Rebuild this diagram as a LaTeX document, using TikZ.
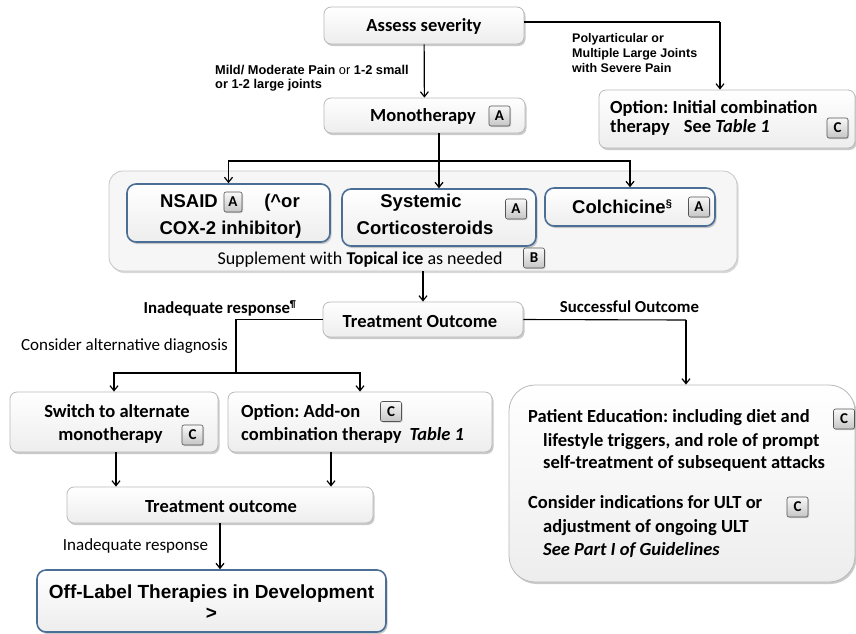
\documentclass[tikz,border=0pt]{standalone}
\usepackage{fontspec}
\setmainfont{Carlito}
\newfontfamily\arialf{Liberation Sans}
\usetikzlibrary{arrows.meta,shadows}
\definecolor{blueb}{RGB}{74,110,150}
\newcommand\myfs[1]{\fontsize{#1}{#1}\selectfont}
\frenchspacing
\begin{document}
\frenchspacing
\begin{tikzpicture}[x=1pt,y=-1pt,
  box/.style={draw=gray!55, line width=0.8pt, rounded corners=7pt, top color=white, bottom color=gray!14,
    drop shadow={shadow xshift=1.5pt, shadow yshift=-2pt, fill=gray!70, opacity=0.6}, inner sep=0pt},
  bluebox/.style={box, draw=blueb, line width=1.6pt, rounded corners=9pt},
  bigbox/.style={draw=gray!45, line width=0.8pt, rounded corners=14pt, fill=gray!7,
    drop shadow={shadow xshift=1.5pt, shadow yshift=-2pt, fill=gray!60, opacity=0.5}, inner sep=0pt},
  badge/.style={draw=gray!65!black, line width=0.6pt, rounded corners=2pt, top color=gray!5, bottom color=gray!45,
    minimum width=21pt, minimum height=20pt, inner sep=0pt, font=\bfseries\myfs{15},
    drop shadow={shadow xshift=1pt, shadow yshift=-1pt, fill=gray!60, opacity=0.6}},
  cb/.style={font=\bfseries\myfs{18.5}, inner sep=0pt, text height=11.9pt, text depth=0pt},
  cbs/.style={font=\bfseries\myfs{16.8}, inner sep=0pt, text height=10.8pt, text depth=0pt},
  cr/.style={font=\myfs{17}, inner sep=0pt, text height=11pt, text depth=0pt},
  ab/.style={font=\arialf\bfseries\myfs{18.5}, inner sep=0pt, text height=13.2pt, text depth=0pt},
  asm/.style={font=\arialf\myfs{12.8}, inner sep=0pt, text height=9.2pt, text depth=0pt},
  asmb/.style={asm, font=\arialf\bfseries\myfs{12.5}},
  conn/.style={line width=1.2pt, -{Straight Barb[length=5pt,width=8pt]}},
  plain/.style={line width=1.1pt},
]
\useasboundingbox (0,0) rectangle (856,633);

% ---------- boxes ----------
\node[box, minimum width=200pt, minimum height=37pt] (assess) at (424,25.5) {};
\node[box, minimum width=201pt, minimum height=35pt] (mono) at (424.5,115.5) {};
\node[box, minimum width=256pt, minimum height=58pt] (opt) at (727,119) {};
\node[bigbox, minimum width=628pt, minimum height=100pt] (big) at (423,221) {};
\node[bluebox, minimum width=203pt, minimum height=58pt] (nsaid) at (228.5,213) {};
\node[bluebox, minimum width=194pt, minimum height=57pt] (sys) at (439,217.5) {};
\node[bluebox, minimum width=170pt, minimum height=38pt] (colch) at (630,207) {};
\node[box, minimum width=200pt, minimum height=35pt] (to) at (423,319.5) {};
\node[box, minimum width=208pt, minimum height=60pt] (sw) at (114,422) {};
\node[box, minimum width=264pt, minimum height=60pt] (add) at (360,422) {};
\node[box, rounded corners=26pt, minimum width=346pt, minimum height=197pt] (pat) at (682,483.5) {};
\node[box, minimum width=306pt, minimum height=36pt] (totwo) at (220,505) {};
\node[bluebox, minimum width=349pt, minimum height=62pt] (off) at (211.5,601) {};

% ---------- texts ----------
\node[cb] (tassess) at (424,26) {Assess severity};
\node[cb] (tmono) at (423,116) {Monotherapy};
\node[badge] (bmono) at (499.5,116) {A};

\node[asm, anchor=west] (tmild1) at (215,70) {\textbf{Mild/ Moderate Pain} or \textbf{1-2 small}};
\node[asm, anchor=west] (tmild2) at (215,84) {\textbf{or 1-2 large joints}};

\node[asmb, anchor=west] (tpoly1) at (572,38) {Polyarticular or};
\node[asmb, anchor=west] (tpoly2) at (572,53) {Multiple Large Joints};
\node[asmb, anchor=west] (tpoly3) at (572,68) {with Severe Pain};

\node[cb, anchor=west] (topt1) at (610,108) {Option: Initial combination};
\node[cb, anchor=west] (topt2) at (610,127) {therapy\hspace{14pt}See \textit{Table 1}};
\node[badge] (bopt) at (837.5,128) {C};

\node[ab] (tnsaid) at (189,201) {NSAID};
\node[badge, minimum width=18pt] (bnsaid) at (233,202) {A};
\node[ab] (tor) at (282,201) {(\textasciicircum or};
\node[ab] (tcox) at (230.5,228) {COX-2 inhibitor)};

\node[ab] (tsys1) at (421,201) {Systemic};
\node[ab] (tsys2) at (425,228) {Corticosteroids};
\node[badge] (bsys) at (516,209) {A};

\node[ab, anchor=west] (tcolch) at (572,207) {Colchicine\textsuperscript{\myfs{11}§}};
\node[badge] (bcolch) at (699,207) {A};

\node[cr, font=\myfs{18}, text height=11.6pt] (tsupp) at (360,259) {Supplement with \textbf{Topical ice} as needed};
\node[badge] (bsupp) at (534,258) {B};

\node[cb] (tto) at (420,322) {Treatment Outcome};
\node[cbs] (tinad) at (220,308) {Inadequate response\textsuperscript{\myfs{10}¶}};
\node[cr] (tcons) at (124.5,345) {Consider alternative diagnosis};
\node[cbs] (tsucc) at (629.5,307) {Successful Outcome};

\node[cb] (tsw1) at (117,412) {Switch to alternate};
\node[cb] (tsw2) at (110.5,435) {monotherapy};
\node[badge] (bsw) at (192.5,435) {C};

\node[cb, anchor=west] (tadd1) at (241,412) {Option: Add-on};
\node[badge] (badd) at (391,411.5) {C};
\node[cb, anchor=west] (tadd2) at (241,435) {combination therapy\hspace{8pt}\textit{Table 1}};

\node[cb, anchor=west] (tpat1) at (528,417) {Patient Education: including diet and};
\node[cb, anchor=west] (tpat2) at (543,441) {lifestyle triggers, and role of prompt};
\node[cb, anchor=west] (tpat3) at (543,463) {self-treatment of subsequent attacks};
\node[badge] (bpat) at (844,419) {C};
\node[cb, anchor=west] (tult1) at (528,503) {Consider indications for ULT or};
\node[badge] (bult) at (797.5,507) {C};
\node[cb, anchor=west] (tult2) at (543,527) {adjustment of ongoing ULT};
\node[cb, anchor=west, font=\bfseries\itshape\myfs{18.5}] (tult3) at (543,550) {See Part I of Guidelines};

\node[cb] (tto2) at (221,507) {Treatment outcome};
\node[cr] (tinad2) at (135.5,545) {Inadequate response};
\node[ab, font=\arialf\bfseries\myfs{19}] (toff1) at (211.5,592) {Off-Label Therapies in Development};
\node[ab, font=\arialf\bfseries\myfs{19}] (toff2) at (211.5,613) {>};

% ---------- connectors ----------
\draw[conn] (assess) -- (mono);
\coordinate (rturn) at (720,22);
\draw[plain] ([yshift=3.5pt]assess.east) -- (rturn);
\draw[conn] (rturn) -- (rturn |- opt.north);

\coordinate (split1) at (439,161);
\draw[plain] (mono.south -| split1) -- (split1);
\draw[conn] (split1) -| (nsaid.north);
\draw[conn] (split1) -| (colch.north);
\draw[conn] (split1) -- (split1 |- sys.north);

\draw[conn] (big) -- (to);

\coordinate (split2) at (236,373);
\draw[plain] (to.west) -| (split2);
\draw[conn] (split2) -| (sw.north);
\draw[conn] (split2) -| (add.north);

\coordinate (sturn) at (686,320);
\draw[plain] (to.east) -- (sturn);
\draw[conn] (sturn) -- (sturn |- pat.north);

\coordinate (swdown) at (116,452);
\coordinate (adddown) at (331,452);
\draw[conn] (swdown) -- (swdown |- totwo.north);
\draw[conn] (adddown) -- (adddown |- totwo.north);
\draw[conn] (totwo.south) -- (totwo.south |- off.north);
\end{tikzpicture}
\end{document}
